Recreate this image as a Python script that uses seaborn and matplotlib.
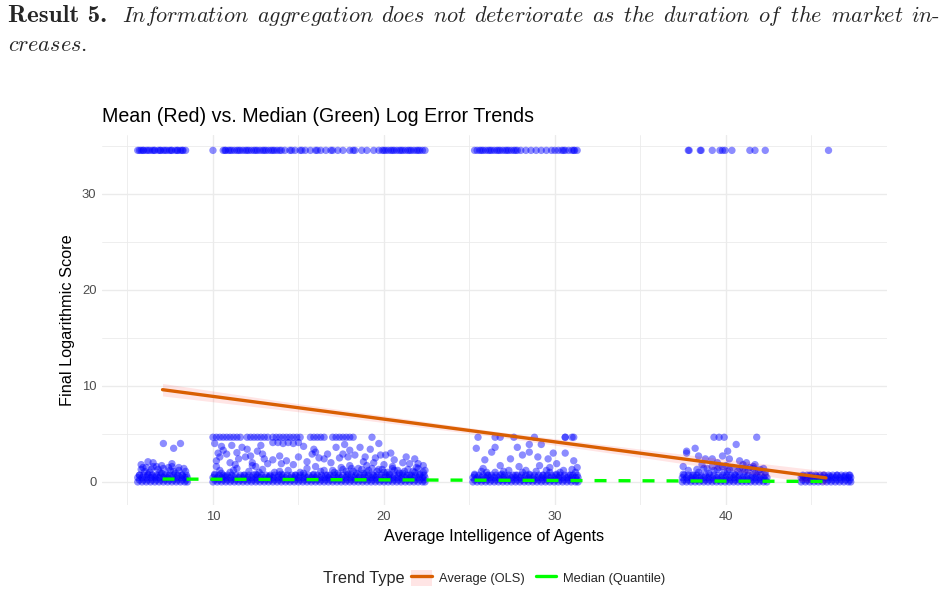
import numpy as np
import pandas as pd
import matplotlib
matplotlib.use("Agg")
import matplotlib.pyplot as plt
import seaborn as sns
from matplotlib.lines import Line2D
from matplotlib.patches import Patch
from matplotlib.legend_handler import HandlerTuple

# ---------------- data ----------------
# points sitting at the capped maximum score (y = 34.5)
top_x = [5.6, 5.8, 5.95, 6.1, 6.3, 6.45, 6.6, 6.8, 6.95, 7.1, 7.3, 7.45, 7.6, 7.8, 7.95, 8.1, 8.25, 8.4,
         10.0,
         10.6, 10.75, 10.9, 11.1, 11.25, 11.4, 11.6, 11.75, 11.9, 12.1, 12.25, 12.4, 12.6, 12.75, 12.9,
         13.1, 13.25, 13.4, 13.6, 13.75, 13.9, 14.2, 14.5, 14.8, 15.1, 15.4, 15.7, 16.0, 16.3, 16.6,
         16.9, 17.3, 17.6, 18.0, 18.3, 18.7, 19.0, 19.4, 19.7, 19.9, 20.1, 20.25, 20.4, 20.6, 20.75,
         20.9, 21.1, 21.25, 21.4, 21.6, 21.75, 21.9, 22.1, 22.25, 22.4,
         25.3, 25.45, 25.6, 25.8, 25.95, 26.1, 26.3, 26.45, 26.6, 26.8, 26.95, 27.1, 27.3, 27.45, 27.6,
         27.8, 28.0, 28.3, 28.6, 28.9, 29.2, 29.5, 29.8, 30.0, 30.2, 30.4, 30.6, 30.8, 31.0, 31.15, 31.3,
         37.8, 37.85, 38.5, 38.55, 39.2, 39.65, 39.8, 39.95, 40.35, 41.4, 41.7, 42.3,
         46.0]
top_extra_x = [5.7, 5.9, 6.2, 6.55, 6.9, 7.2, 7.55, 7.9, 8.2,
               10.7, 11.0, 11.5, 12.0, 12.5, 13.0, 13.5, 14.0, 14.6, 15.2, 16.1, 17.0, 18.2,
               20.0, 20.5, 21.0, 21.5, 22.0,
               25.7, 26.2, 26.7, 27.2, 27.7, 30.5, 31.1]
top_score = 34.5

# second cap row (y ~ 4.65)
cap_x = [10.0, 10.2, 10.4, 10.6, 10.8, 11.0, 11.2, 11.4, 11.6, 12.0, 12.2, 12.4, 12.6, 12.8, 13.0,
         13.2, 13.5, 13.7, 13.9, 14.1, 14.3, 14.5, 14.7, 14.9, 15.1, 15.7, 15.9, 16.1, 16.3, 16.5,
         17.0, 17.2, 17.4, 17.6, 17.8, 18.0, 18.2, 19.3,
         25.5, 26.5, 26.8, 27.6, 28.8, 30.6, 30.6, 31.0, 31.1,
         39.3, 39.6, 39.9, 41.8]
cap_score = 4.65

# dense base rows
low0_x = [5.6, 5.85, 6.1, 6.35, 6.6, 6.85, 7.1, 7.35, 7.6, 7.85, 8.1, 8.35, 8.5,
          10.0, 10.25, 10.5, 10.75, 11.0, 11.25, 11.5, 11.75, 12.0, 12.25, 12.5, 12.75, 13.0, 13.25,
          13.5, 13.75, 14.0, 14.25, 14.5, 14.75, 15.0, 15.25, 15.5, 15.75, 16.0, 16.25, 16.5, 16.75,
          17.0, 17.25, 17.5, 17.75, 18.0, 18.25, 18.5, 18.75, 19.0, 19.25, 19.5, 19.75, 20.0, 20.25,
          20.5, 20.75, 21.0, 21.25, 21.5, 21.75, 22.0, 22.25, 22.4,
          25.2, 25.45, 25.7, 25.95, 26.2, 26.45, 26.7, 26.95, 27.2, 27.45, 27.7, 27.95, 28.2, 28.45,
          28.7, 28.95, 29.2, 29.45, 29.7, 29.95, 30.2, 30.45, 30.7, 30.95, 31.2, 31.35,
          37.45, 37.7, 37.95, 38.2, 38.45, 38.7, 38.95, 39.2, 39.45, 39.7, 39.95, 40.2, 40.45, 40.7,
          40.95, 41.2, 41.45, 41.7, 41.95, 42.2, 42.4,
          44.4, 44.65, 44.9, 45.15, 45.4, 45.65, 45.9, 46.15, 46.4, 46.65, 46.9, 47.15, 47.3]
low0_levels = [0.0, 0.45]

low1_x = [5.7, 5.95, 6.2, 6.45, 6.7, 6.95, 7.2, 7.45, 7.7, 7.95, 8.2, 8.45,
          10.1, 10.35, 10.6, 10.85, 11.1, 11.35, 11.6, 11.85, 12.1, 12.35, 12.6, 12.85, 13.1, 13.35,
          13.6, 13.85, 14.1, 14.35, 14.6, 14.85, 15.1, 15.35, 15.6, 15.85, 16.1, 16.35, 16.6, 16.85,
          17.1, 17.35, 17.6, 17.85, 18.1, 18.35, 18.6, 18.85, 19.1, 19.35, 19.6, 19.85, 20.1, 20.35,
          20.6, 20.85, 21.1, 21.35, 21.6, 21.85, 22.1, 22.35,
          25.3, 25.55, 25.8, 26.05, 26.3, 26.55, 26.8, 27.05, 27.3, 27.55, 27.8, 28.05, 28.3, 28.55,
          28.8, 29.05, 29.3, 29.55, 29.8, 30.05, 30.3, 30.55, 30.8, 31.05, 31.3,
          37.55, 37.8, 38.05, 38.3, 38.55, 38.8, 39.05, 39.3, 39.55, 39.8, 40.05, 40.3, 40.55, 40.8,
          41.05, 41.3, 41.55, 41.8, 42.05, 42.3,
          44.5, 44.75, 45.0, 45.25, 45.5, 45.75, 46.0, 46.25, 46.5, 46.75, 47.0, 47.25]
low1_levels = [0.2, 0.7]

# ragged top of the base (y 0.5 - 1.8)
mid_x = [5.7, 6.0, 6.2, 6.4, 6.6, 6.9, 7.1, 7.3, 7.5, 7.8, 8.0, 8.2, 8.4, 5.9, 6.7, 7.6,
         10.1, 10.4, 10.7, 11.0, 11.4, 11.8, 12.1, 12.5, 12.9, 13.3, 13.6, 14.0, 14.4, 14.8, 15.1,
         15.5, 15.9, 16.3, 16.7, 17.0, 17.3, 17.6, 17.9, 18.2, 18.5, 18.8, 19.1, 19.4, 19.7, 20.0,
         20.3, 20.6, 20.9, 21.2, 21.5, 21.8, 22.1, 22.4, 10.2, 12.3, 16.0, 18.0, 20.5, 21.9,
         25.3, 25.7, 26.1, 26.5, 26.9, 27.3, 27.7, 28.1, 28.5, 28.9, 29.3, 29.7, 30.1, 30.5, 30.9, 31.2,
         37.5, 37.8, 38.1, 38.4, 38.7, 39.0, 39.3, 39.6, 39.9, 40.2, 40.5, 40.8, 41.1, 41.4, 41.7,
         42.0, 42.3, 40.0, 41.0, 41.6,
         44.5, 44.9, 45.3, 45.7, 46.1, 46.5, 46.9, 47.2,
         5.8, 6.1, 6.3, 6.8, 7.0, 7.4, 7.7, 8.0, 8.3, 6.5,
         17.1, 17.5, 17.8, 18.1, 18.4, 18.7, 19.0, 19.3, 19.6, 19.9, 20.2, 20.5, 20.8, 21.1, 21.4,
         21.7, 22.0, 22.3, 10.5, 11.2, 12.7, 13.9, 15.3, 16.5,
         39.2, 39.5, 39.8, 40.1, 40.4, 40.7, 41.0, 41.3, 41.6, 41.9, 42.2, 38.9, 38.3,
         26.0, 27.0, 28.3, 29.5, 30.3, 31.0]
mid_y = [0.7, 1.1, 0.8, 1.3, 0.6, 1.0, 1.4, 0.8, 1.2, 0.9, 1.5, 0.7, 1.1, 1.5, 1.6, 1.6,
         0.8, 1.2, 0.6, 1.0, 1.4, 0.7, 1.1, 0.8, 1.3, 0.6, 1.0, 0.8, 1.2, 0.7, 1.0,
         1.4, 0.8, 1.1, 0.7, 1.2, 0.9, 1.3, 0.8, 1.1, 1.4, 0.9, 1.2, 0.7, 1.3, 1.0,
         0.8, 1.2, 0.9, 1.1, 0.7, 1.0, 0.8, 1.2, 1.6, 1.7, 1.6, 1.7, 1.6, 1.5,
         0.8, 1.1, 0.7, 1.0, 0.8, 1.2, 0.7, 1.0, 0.8, 1.1, 0.7, 1.0, 0.8, 1.2, 0.7, 1.0,
         0.8, 1.2, 0.7, 1.0, 1.4, 0.9, 1.2, 1.5, 1.0, 1.3, 0.8, 1.4, 1.1, 1.5, 0.9,
         1.3, 1.0, 1.7, 1.8, 1.6,
         0.6, 0.7, 0.6, 0.7, 0.6, 0.7, 0.6, 0.7,
         1.3, 1.5, 1.0, 1.3, 0.9, 1.5, 1.1, 1.2, 1.4, 1.6,
         1.0, 1.5, 1.1, 1.4, 0.9, 1.3, 1.0, 1.4, 1.1, 1.3, 1.0, 1.4, 1.2, 0.9, 1.3,
         1.1, 1.4, 1.0, 0.9, 1.2, 1.0, 1.1, 0.9, 1.2,
         1.6, 1.3, 1.6, 1.1, 1.5, 1.1, 1.4, 1.2, 1.4, 1.1, 1.4, 1.4, 1.3,
         1.0, 1.1, 1.2, 1.2, 1.0, 1.3]

# scattered points between the base and the 4.65 row
high_x = [7.1, 7.7, 8.1, 6.2, 5.8, 7.6, 7.0, 6.5,
          10.3, 11.4, 12.0, 12.6, 10.2, 10.8, 11.5, 13.0, 13.5, 14.0, 14.7, 15.3, 15.9, 16.2, 16.7,
          17.2, 17.7, 18.6, 19.2, 19.7, 19.8, 19.5, 20.1, 17.9, 15.8, 16.5, 17.4, 18.8, 20.0, 21.5,
          13.5, 13.8, 14.1, 14.4, 14.7, 15.0, 10.1, 10.5, 11.1, 12.3, 11.9, 12.9, 18.3, 20.6, 21.1,
          22.0, 21.3,
          10.4, 10.6, 11.0, 11.7, 12.2, 12.8, 13.2, 13.9, 14.3, 15.0, 15.5, 16.0, 16.9, 17.6, 18.0,
          18.9, 19.4, 20.4, 21.8, 22.3, 11.3, 12.5, 19.0,
          25.4, 26.3, 26.5, 25.9, 27.8, 28.1, 28.5, 28.5, 29.0, 27.4, 29.6, 29.9, 30.1, 30.6, 31.1,
          31.3, 27.9, 29.1, 29.7, 26.8, 25.8, 29.2,
          37.7, 37.7, 38.2, 40.6, 40.1, 39.8, 38.4, 38.8, 39.2, 38.6, 41.2, 41.7, 37.5, 40.2, 39.5, 40.8]
high_y = [4.0, 3.5, 4.0, 2.1, 1.8, 1.9, 1.7, 2.0,
          3.0, 3.05, 3.4, 3.2, 2.2, 2.9, 2.4, 2.4, 2.3, 1.9, 1.8, 3.7, 3.4, 2.5, 2.9,
          3.6, 3.9, 3.6, 3.4, 4.0, 2.8, 2.5, 2.8, 2.6, 2.9, 2.4, 2.5, 2.1, 1.8, 1.9,
          4.1, 4.1, 4.0, 4.1, 4.0, 4.1, 4.0, 3.7, 3.8, 2.0, 2.6, 2.9, 2.8, 2.3, 2.0,
          1.9, 2.6,
          2.6, 3.3, 2.0, 3.6, 2.7, 3.8, 1.9, 2.7, 2.2, 2.6, 2.1, 3.1, 2.0, 2.9, 3.3,
          2.6, 2.0, 3.0, 2.4, 1.7, 1.8, 1.6, 1.7,
          3.5, 3.1, 3.6, 2.3, 3.6, 2.8, 3.1, 3.9, 2.6, 2.4, 2.4, 3.0, 1.9, 3.0, 2.2,
          1.5, 1.6, 1.7, 1.5, 1.7, 1.4, 3.9,
          3.2, 3.0, 3.5, 3.9, 3.2, 2.7, 2.7, 2.4, 2.4, 1.8, 2.0, 1.8, 1.6, 2.4, 2.0, 2.2]

# trend lines
trend_x = [7.05, 45.85]
ols_y = [9.6, 0.42]
median_y = [0.3, 0.05]
ci_x = [7.05, 15.0, 26.5, 36.0, 45.85]
ci_half = [0.65, 0.42, 0.28, 0.45, 0.72]

trend_labels = ["Average (OLS)", "Median (Quantile)"]

# ---------------- styling ----------------
sns.set_theme(style="white")
plt.rcParams['font.family'] = ['Liberation Sans', 'DejaVu Sans']
plt.rcParams['mathtext.fontset'] = 'cm'

POINT_COL = '#0000FF'
OLS_COL = '#D95F02'
MED_COL = '#00FF00'
GRID_COL = '#EBEBEB'
TXT_COL = '#4D4D4D'

xs, ys = [], []
xs += top_x + top_extra_x
ys += [top_score] * (len(top_x) + len(top_extra_x))
xs += cap_x
ys += [cap_score] * len(cap_x)
for lv in low0_levels:
    xs += low0_x
    ys += [lv] * len(low0_x)
for lv in low1_levels:
    xs += low1_x
    ys += [lv] * len(low1_x)
xs += mid_x + high_x
ys += mid_y + high_y
pts = pd.DataFrame({'x': xs, 'y': ys})
trend = pd.DataFrame({'x': trend_x, 'ols': ols_y, 'median': median_y})

W, H = 947, 595
fig = plt.figure(figsize=(W / 100, H / 100), dpi=100)
ax = fig.add_axes([102 / W, 1 - 505 / H, (887 - 102) / W, (505 - 135) / H])

sns.scatterplot(data=pts, x='x', y='y', color=POINT_COL, alpha=0.45, s=28,
                edgecolor='none', linewidth=0, ax=ax, legend=False, zorder=2)

ci_center = np.interp(ci_x, trend_x, ols_y)
ax.fill_between(ci_x, ci_center - np.array(ci_half), ci_center + np.array(ci_half),
                color='red', alpha=0.1, linewidth=0, zorder=3)
sns.lineplot(data=trend, x='x', y='ols', color=OLS_COL, linewidth=2.4, ax=ax, zorder=4)
sns.lineplot(data=trend, x='x', y='median', color=MED_COL, linewidth=2.4,
             linestyle=(0, (3.6, 3.6)), ax=ax, zorder=4)

ax.set_xlim(3.51, 49.42)
ax.set_ylim(-2.4, 36.1)
ax.set_xticks([10, 20, 30, 40])
ax.set_xticks([5, 15, 25, 35, 45], minor=True)
ax.set_yticks([0, 10, 20, 30])
ax.set_yticks([5, 15, 25, 35], minor=True)
ax.grid(which='major', color=GRID_COL, linewidth=1.0)
ax.grid(which='minor', color=GRID_COL, linewidth=0.6)
ax.set_axisbelow(True)
for s in ax.spines.values():
    s.set_visible(False)
ax.tick_params(which='both', length=0, labelcolor=TXT_COL, labelsize=9.4, pad=4)

ax.set_xlabel("Average Intelligence of Agents", fontsize=11.7, color='black')
ax.xaxis.set_label_coords(0.5, -0.066)
ax.set_ylabel("Final Logarithmic Score", fontsize=11.7, color='black')
ax.yaxis.set_label_coords(-0.034, 0.5)
ax.set_title("Mean (Red) vs. Median (Green) Log Error Trends", loc='left',
             fontsize=14.1, color='black', pad=9)

# legend at the bottom
leg_y = 1 - 578 / H
fig.text(323 / W, leg_y, "Trend Type", fontsize=11.7, va='center', ha='left')
handles = [(Patch(facecolor='red', alpha=0.1, edgecolor='none'),
            Line2D([], [], color=OLS_COL, linewidth=2.4)),
           Line2D([], [], color=MED_COL, linewidth=2.4)]
fig.legend(handles, trend_labels, loc='center left', bbox_to_anchor=(411 / W, leg_y),
           ncol=2, frameon=False, fontsize=9.3, handlelength=1.6, handleheight=1.6,
           handletextpad=0.55, columnspacing=0.85, borderpad=0, borderaxespad=0,
           handler_map={tuple: HandlerTuple(ndivide=1, pad=0)})

# header text (justified first line)
renderer = fig.canvas.get_renderer()
HS = 16
base1 = 1 - 22 / H
base2 = 1 - 51 / H
fig.text(8 / W, base1, "Result 5.", family='cmb10', fontsize=18, va='baseline')
x_start = 122
words = ["Information", "aggregation", "does", "not", "deteriorate", "as", "the",
         "duration", "of", "the", "market", "in"]
texts = []
for i, w in enumerate(words):
    s = r"$\mathit{" + w + "}$" + ("-" if i == len(words) - 1 else "")
    texts.append(fig.text(0, base1, s, family='cmr10', fontsize=HS, va='baseline'))
widths = [t.get_window_extent(renderer).width for t in texts]
gap = (940 - x_start - sum(widths)) / (len(words) - 1)
xpos = x_start
for t, wdt in zip(texts, widths):
    t.set_x(xpos / W)
    xpos += wdt + gap
fig.text(8 / W, base2, r"$\mathit{creases}$.", family='cmr10', fontsize=HS, va='baseline')

fig.savefig("out.png", dpi=100)
